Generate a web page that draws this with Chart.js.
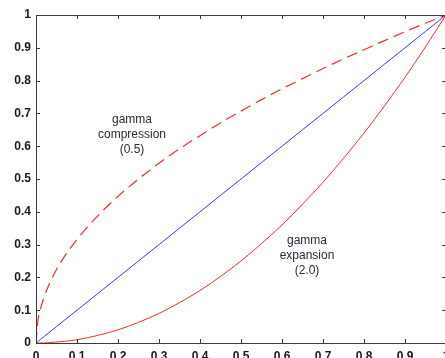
<!DOCTYPE html>
<html>
<head>
<meta charset="utf-8">
<script src="https://cdn.jsdelivr.net/npm/chart.js@4"></script>
<style>
    html, body { margin: 0; padding: 0; background: #fff; overflow: hidden; }
    #wrap { width: 445px; height: 358px; overflow: hidden; }
    canvas { display: block; }
</style>
</head>
<body>
<div id="wrap"><canvas id="gammaChart" width="470" height="380"></canvas></div>
<script>
// Gamma curves: input intensity vs output intensity

const inputLevels = [0, 0.005, 0.01, 0.02, 0.03, 0.05, 0.07, 0.1, 0.15, 0.2, 0.25, 0.3, 0.35, 0.4, 0.45, 0.5, 0.55, 0.6, 0.65, 0.7, 0.75, 0.8, 0.85, 0.9, 0.95, 1];
const identityOut = [0, 0.005, 0.01, 0.02, 0.03, 0.05, 0.07, 0.1, 0.15, 0.2, 0.25, 0.3, 0.35, 0.4, 0.45, 0.5, 0.55, 0.6, 0.65, 0.7, 0.75, 0.8, 0.85, 0.9, 0.95, 1];
const compressionOut = [0, 0.071, 0.1, 0.141, 0.173, 0.224, 0.265, 0.316, 0.387, 0.447, 0.5, 0.548, 0.592, 0.632, 0.671, 0.707, 0.742, 0.775, 0.806, 0.837, 0.866, 0.894, 0.922, 0.949, 0.975, 1];
const expansionOut = [0, 0, 0, 0, 0.001, 0.003, 0.005, 0.01, 0.023, 0.04, 0.063, 0.09, 0.123, 0.16, 0.203, 0.25, 0.303, 0.36, 0.423, 0.49, 0.563, 0.64, 0.723, 0.81, 0.903, 1];
const tickValues = [0, 0.1, 0.2, 0.3, 0.4, 0.5, 0.6, 0.7, 0.8, 0.9, 1];

const toPoints = (ys) => inputLevels.map((x, i) => ({ x: x, y: ys[i] }));

const AXIS_COLOR = '#3a3a3a';
const TICK_FONT = { family: '"Liberation Sans", Arial, sans-serif', size: 12, weight: 'bold' };

// Box around the plot plus inward tick marks (MATLAB style)
const frameTicks = {
    id: 'frameTicks',
    afterDatasetsDraw(chart) {
        const { ctx, chartArea: a, scales } = chart;
        ctx.save();
        ctx.strokeStyle = AXIS_COLOR;
        ctx.lineWidth = 1;
        ctx.strokeRect(a.left + 0.5, a.top + 0.5, a.right - a.left, a.bottom - a.top);
        ctx.beginPath();
        tickValues.forEach(v => {
            const px = Math.round(scales.x.getPixelForValue(v)) + 0.5;
            ctx.moveTo(px, a.bottom); ctx.lineTo(px, a.bottom - 4);
            ctx.moveTo(px, a.top); ctx.lineTo(px, a.top + 4);
            const py = Math.round(scales.y.getPixelForValue(v)) + 0.5;
            ctx.moveTo(a.left, py); ctx.lineTo(a.left + 4, py);
            ctx.moveTo(a.right, py); ctx.lineTo(a.right - 4, py);
        });
        ctx.stroke();
        ctx.restore();
    }
};

// Text labels next to the curves
const curveNotes = {
    id: 'curveNotes',
    afterDraw(chart) {
        const { ctx } = chart;
        ctx.save();
        ctx.fillStyle = '#2a2a3a';
        ctx.font = '12px "Liberation Sans", Arial, sans-serif';
        ctx.textAlign = 'center';
        ctx.textBaseline = 'middle';
        ['gamma', 'compression', '(0.5)'].forEach((t, i) => ctx.fillText(t, 132, 120 + i * 15));
        ['gamma', 'expansion', '(2.0)'].forEach((t, i) => ctx.fillText(t, 307, 241 + i * 15));
        ctx.restore();
    }
};

const ctx = document.getElementById('gammaChart').getContext('2d');
new Chart(ctx, {
    type: 'line',
    data: {
        datasets: [
            {
                label: 'identity',
                data: toPoints(identityOut),
                borderColor: '#3b3bff',
                borderWidth: 1,
                pointRadius: 0,
                tension: 0
            },
            {
                label: 'gamma expansion (2.0)',
                data: toPoints(expansionOut),
                borderColor: '#ff2a2a',
                borderWidth: 1,
                pointRadius: 0,
                cubicInterpolationMode: 'monotone'
            },
            {
                label: 'gamma compression (0.5)',
                data: toPoints(compressionOut),
                borderColor: '#ff2a2a',
                borderWidth: 1.2,
                borderDash: [11, 6],
                pointRadius: 0,
                cubicInterpolationMode: 'monotone'
            }
        ]
    },
    options: {
        responsive: false,
        animation: false,
        layout: { padding: { left: 0, top: 15, right: 24, bottom: 0 } },
        plugins: {
            legend: { display: false },
            tooltip: { enabled: false }
        },
        scales: {
            x: {
                type: 'linear',
                min: 0,
                max: 1,
                afterFit(scale) { scale.height = 37; },
                afterBuildTicks(scale) { scale.ticks = tickValues.map(v => ({ value: v })); },
                grid: { display: false, drawTicks: false },
                border: { display: false },
                ticks: {
                    color: '#1a1a1a',
                    font: TICK_FONT,
                    padding: 6,
                    maxRotation: 0,
                    autoSkip: false,
                    callback: (v) => String(Math.round(v * 10) / 10)
                }
            },
            y: {
                type: 'linear',
                min: 0,
                max: 1,
                afterFit(scale) { scale.width = 36; },
                afterBuildTicks(scale) { scale.ticks = tickValues.map(v => ({ value: v })); },
                grid: { display: false, drawTicks: false },
                border: { display: false },
                ticks: {
                    color: '#1a1a1a',
                    font: TICK_FONT,
                    padding: 5,
                    autoSkip: false,
                    callback: (v) => String(Math.round(v * 10) / 10)
                }
            }
        }
    },
    plugins: [frameTicks, curveNotes]
});
</script>
</body>
</html>
